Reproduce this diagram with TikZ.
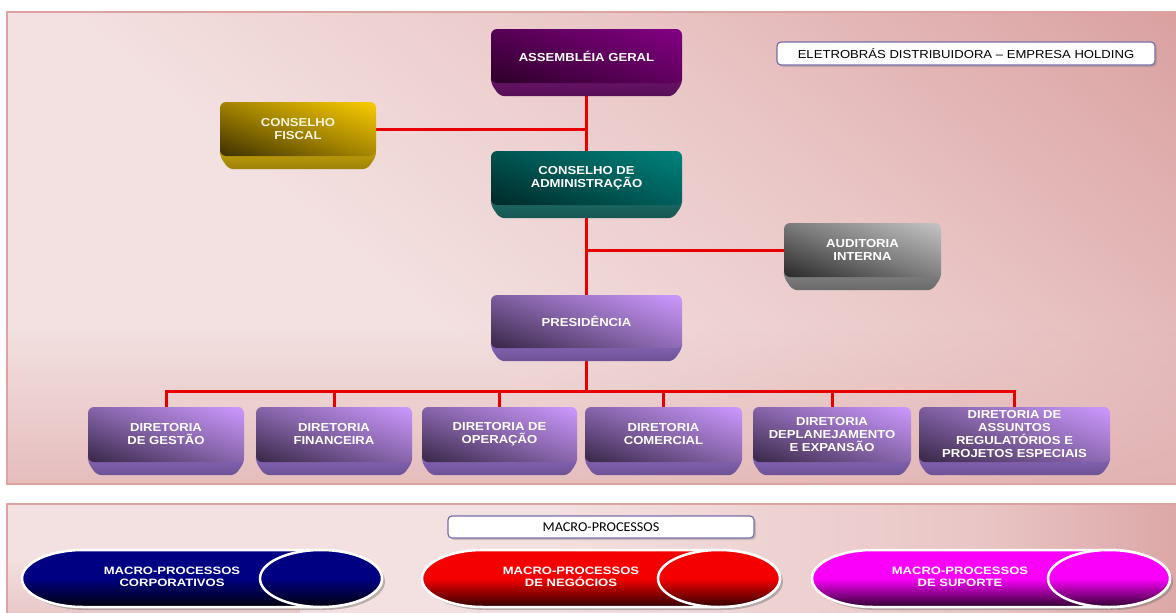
\documentclass[tikz,border=0pt]{standalone}
\usepackage{fontspec}
\setmainfont{Liberation Sans}
\newfontfamily\boxfont[FakeStretch=1.13]{Liberation Sans}
\newfontfamily\pillfont[FakeStretch=1.22]{Liberation Sans}
\newfontfamily\capfont[FakeStretch=1.05]{Carlito}
\usetikzlibrary{calc,shadows,fadings}

\pgfdeclarelayer{panel}
\pgfdeclarelayer{lines}
\pgfdeclarelayer{slab}
\pgfsetlayers{panel,lines,slab,main}

% panel background
\definecolor{pnlA}{RGB}{243,224,224}
\definecolor{pnlB}{RGB}{234,198,198}
\definecolor{pnlC}{RGB}{208,136,136}
\definecolor{pnlD}{RGB}{220,166,166}
\definecolor{pnlEdge}{RGB}{222,162,162}
\pgfdeclareverticalshading{panelshade}{100bp}{color(0bp)=(pnlA); color(40bp)=(pnlA); color(62bp)=(pnlB); color(100bp)=(pnlC)}
\pgfdeclarehorizontalshading{lowshade}{100bp}{color(0bp)=(pnlA); color(48bp)=(pnlA); color(66bp)=(pnlB); color(75bp)=(pnlD); color(100bp)=(pnlD)}

% connectors and captions
\definecolor{connred}{RGB}{232,0,0}
\definecolor{capedge}{RGB}{120,110,170}

% box colours: bright face, dark corner, slab
\definecolor{asmBright}{RGB}{128,0,128}
\definecolor{asmDark}{RGB}{30,0,25}
\definecolor{asmBase}{RGB}{110,20,110}
\definecolor{admBright}{RGB}{0,128,122}
\definecolor{admDark}{RGB}{0,25,25}
\definecolor{admBase}{RGB}{30,110,105}
\definecolor{fisBright}{RGB}{245,200,0}
\definecolor{fisDark}{RGB}{30,22,0}
\definecolor{fisBase}{RGB}{200,165,10}
\definecolor{audBright}{RGB}{192,192,192}
\definecolor{audDark}{RGB}{15,15,15}
\definecolor{audBase}{RGB}{135,135,135}
\definecolor{preBright}{RGB}{200,150,250}
\definecolor{preDark}{RGB}{30,20,40}
\definecolor{preBase}{RGB}{140,105,190}

% face shadings: dark lower-left corner, bright upper-right
\newcommand\faceshading[3]{%
  \pgfdeclareverticalshading{#1}{100bp}{color(0bp)=(#3); color(8bp)=(#3);
    color(50bp)=(#2!62!#3); color(80bp)=(#2); color(100bp)=(#2)}}
\faceshading{asmFace}{asmBright}{asmDark}
\faceshading{admFace}{admBright}{admDark}
\faceshading{fisFace}{fisBright}{fisDark}
\faceshading{audFace}{audBright}{audDark}
\faceshading{preFace}{preBright}{preDark}

% macro-process pills
\definecolor{corpTop}{RGB}{0,0,130}
\definecolor{corpBot}{RGB}{0,0,12}
\definecolor{negTop}{RGB}{245,0,0}
\definecolor{negBot}{RGB}{45,0,0}
\definecolor{supTop}{RGB}{250,0,250}
\definecolor{supBot}{RGB}{45,0,45}

\tikzset{
  face/.style={rectangle, rounded corners=6pt, inner sep=0pt, align=center,
    text=white, font=\boxfont\bfseries\fontsize{11.6}{13}\selectfont,
    shade, shading=#1, shading angle=-20},
  conn/.style={draw=connred, line width=3pt},
  caption/.style={draw=capedge, line width=1.2pt, fill=white, rounded corners=4pt,
    inner sep=0pt, text=black,
    drop shadow={shadow xshift=2pt, shadow yshift=-2pt, opacity=.35}},
  pilltext/.style={text=white, align=center, inner sep=0pt,
    font=\pillfont\bfseries\fontsize{10.7}{11.5}\selectfont},
  pill outline/.style 2 args={insert path={(#1+61,550) -- (#2-61,550)
    arc[start angle=-90, end angle=90, x radius=61, y radius=28.5] -- (#1+61,607)
    arc[start angle=90, end angle=270, x radius=61, y radius=28.5] -- cycle}}
}

% 3D slab under a box face
\newcommand\slabunder[2]{%
  \begin{pgfonlayer}{slab}
    \shade[top color=#2, bottom color=#2!78!black, rounded corners=5pt]
      ($(#1.south west)+(0,-10)$) -- (#1.south west) -- ($(#1.south west)+(9,13)$)
      -- ($(#1.south east)+(-9,13)$) -- (#1.south east) -- ($(#1.south east)+(0,-10)$) -- cycle;
  \end{pgfonlayer}}

% pill: left x, right x, top colour, bottom colour
\newcommand\macropill[4]{%
  \fill[black!55, opacity=.45, shift={(3,3)}] [pill outline={#1}{#2}];
  \shadedraw[draw=white, line width=2.5pt, top color=#3, bottom color=#4, middle color=#3]
    [pill outline={#1}{#2}];
  \shadedraw[draw=white, line width=2.5pt, top color=#3, bottom color=#4, middle color=#3]
    (#2-61,578.5) ellipse [x radius=61, y radius=28.5];}

\begin{document}
\begin{tikzpicture}[x=1pt, y=-1pt]
\useasboundingbox (0,0) rectangle (1176,613);
\clip (0,0) rectangle (1176,613);

% the two panels
\begin{pgfonlayer}{panel}
  \fill[white] (0,0) rectangle (1176,613);
  \shade[shading=panelshade, shading angle=-40] (7,12) rectangle (1185,484);
  \fill[pnlD, path fading=north, opacity=.6] (7,330) rectangle (1185,484);
  \draw[pnlEdge, line width=1.5pt] (7,12) rectangle (1185,484);
  \shade[shading=lowshade] (7,504) rectangle (1185,625);
  \fill[pnlD, path fading=north, opacity=.5] (7,560) rectangle (300,625);
  \draw[pnlEdge, line width=1.5pt] (7,504) rectangle (1185,625);
\end{pgfonlayer}

% governance boxes
\node[face=asmFace, minimum width=191pt, minimum height=54pt] (asm) at (586.5,56) {ASSEMBLÉIA GERAL};
\node[face=fisFace, minimum width=156pt, minimum height=54pt, text={rgb,255:red,250;green,244;blue,220}] (fis) at (298,129) {CONSELHO\\FISCAL};
\node[face=admFace, minimum width=191pt, minimum height=54pt] (adm) at (586.5,178) {CONSELHO DE\\ADMINISTRAÇÃO};
\node[face=audFace, minimum width=157pt, minimum height=54pt] (aud) at (862.5,250) {AUDITORIA\\INTERNA};
\node[face=preFace, minimum width=191pt, minimum height=53pt] (pres) at (586.5,321.5) {PRESIDÊNCIA};

% directorates
\node[face=preFace, minimum width=156pt, minimum height=55pt] (d1) at (166,434.5) {DIRETORIA\\DE GESTÃO};
\node[face=preFace, minimum width=156pt, minimum height=55pt] (d2) at (334,434.5) {DIRETORIA\\FINANCEIRA};
\node[face=preFace, minimum width=155pt, minimum height=55pt] (d3) at (499.5,434.5) {DIRETORIA DE\\OPERAÇÃO};
\node[face=preFace, minimum width=157pt, minimum height=55pt] (d4) at (663.5,434.5) {DIRETORIA\\COMERCIAL};
\node[face=preFace, minimum width=158pt, minimum height=55pt] (d5) at (832,434.5) {DIRETORIA\\DEPLANEJAMENTO\\E EXPANSÃO};
\node[face=preFace, minimum width=191pt, minimum height=55pt] (d6) at (1014.5,434.5) {DIRETORIA DE\\ASSUNTOS\\REGULATÓRIOS E\\PROJETOS ESPECIAIS};

\slabunder{asm}{asmBase}
\slabunder{fis}{fisBase}
\slabunder{adm}{admBase}
\slabunder{aud}{audBase}
\slabunder{pres}{preBase}
\foreach \d in {d1,d2,d3,d4,d5,d6} {\slabunder{\d}{preBase}}

% red reporting lines
\begin{pgfonlayer}{lines}
  \draw[conn] (asm.south) -- (adm.north);
  \draw[conn] (adm.south) -- (pres.north);
  \draw[conn] (fis.east) -- (fis.east -| asm.south);
  \draw[conn] (aud.west) -- (aud.west -| adm.south);
  \foreach \d in {d1,d2,d3,d4,d5,d6}
    {\draw[conn] (pres.south) |- ($(\d.north)+(0,-15)$) -- (\d.north);}
\end{pgfonlayer}

% captions
\node[caption, minimum width=378pt, minimum height=23pt,
  font=\boxfont\fontsize{11.6}{13}\selectfont] (title) at (966,53.5)
  {ELETROBRÁS DISTRIBUIDORA – EMPRESA HOLDING};
\node[caption, minimum width=306pt, minimum height=22pt,
  font=\capfont\fontsize{13.5}{15}\selectfont] (macro) at (601,527) {MACRO-PROCESSOS};

% macro-process pills
\macropill{22}{382}{corpTop}{corpBot}
\macropill{422}{780}{negTop}{negBot}
\macropill{812}{1170}{supTop}{supBot}
\node[pilltext] (pcorp) at (172,577) {MACRO-PROCESSOS\\CORPORATIVOS};
\node[pilltext] (pneg) at (571,577) {MACRO-PROCESSOS\\DE NEGÓCIOS};
\node[pilltext] (psup) at (960,577) {MACRO-PROCESSOS\\DE SUPORTE};
\end{tikzpicture}
\end{document}
